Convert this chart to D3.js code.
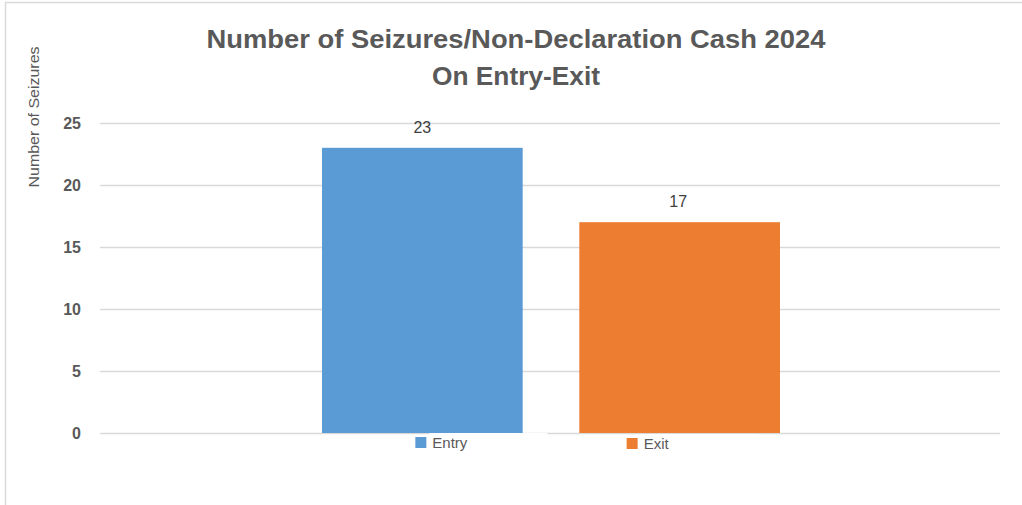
<!DOCTYPE html>
<html><head><meta charset="utf-8">
<script src="https://cdn.jsdelivr.net/npm/d3@7"></script>
<style>body{margin:0;background:#fff}svg{display:block}</style>
</head><body>
<script>
const series = ["Entry", "Exit"];
const values = [23, 17];
const colors = ["#5b9bd5", "#ed7d31"];
const yTicks = [0, 5, 10, 15, 20, 25];
const titleLines = ["Number of Seizures/Non-Declaration Cash 2024", "On Entry-Exit"];
const yTitle = "Number of Seizures";

const W = 1022, H = 505;
const svg = d3.select("body").append("svg").attr("width", W).attr("height", H);

// frame
svg.append("rect").attr("x", 5.5).attr("y", 2.5).attr("width", 1040).attr("height", 540)
  .attr("fill", "none").attr("stroke", "#d9d9d9").attr("stroke-width", 1.5);

const plotL = 100, plotR = 1000;
const y = d3.scaleLinear().domain([0, 25]).range([433, 123]);
const x = d3.scaleBand().domain(series).range([322, 780]).paddingInner(0.22).paddingOuter(0);

// gridlines
svg.append("g").selectAll("line").data(yTicks).join("line")
  .attr("x1", plotL).attr("x2", plotR)
  .attr("y1", d => Math.round(y(d)) + 0.5).attr("y2", d => Math.round(y(d)) + 0.5)
  .attr("stroke", "#d9d9d9").attr("stroke-width", 1.3);

// y axis labels
const yAxis = d3.axisLeft(y).tickValues(yTicks).tickSize(0).tickPadding(0);
const ga = svg.append("g").attr("transform", "translate(81,0)").call(yAxis);
ga.select(".domain").remove();
ga.selectAll("text").attr("font-family", "'Liberation Sans', sans-serif")
  .attr("font-weight", "bold").attr("font-size", 16).attr("fill", "#595959");

// bars
svg.append("g").selectAll("rect").data(series).join("rect")
  .attr("x", d => x(d)).attr("width", x.bandwidth())
  .attr("y", (d, i) => y(values[i])).attr("height", (d, i) => y(0) - y(values[i]))
  .attr("fill", (d, i) => colors[i]);

// data labels
svg.append("g").selectAll("text").data(series).join("text")
  .attr("x", (d, i) => x(d) + x.bandwidth() / 2 + (i === 0 ? 0 : -1.5))
  .attr("y", (d, i) => y(values[i]) - 15)
  .attr("text-anchor", "middle")
  .attr("font-family", "'Liberation Sans', sans-serif").attr("font-size", 16)
  .attr("fill", "#404040").text((d, i) => values[i]);

// legend (placed under each bar)
const legendOffsets = [-7, -53];
const legendDy = [0, 1];
const lg = svg.append("g").selectAll("g").data(series).join("g")
  .attr("transform", (d, i) => `translate(${x(d) + x.bandwidth() / 2 + legendOffsets[i]},${437 + legendDy[i]})`);
lg.append("rect").attr("x", 14).attr("y", -4).attr("width", 118).attr("height", 3).attr("fill", "#fff");
lg.append("rect").attr("x", 0).attr("y", 0).attr("width", 11).attr("height", 11)
  .attr("fill", (d, i) => colors[i]);
lg.append("text").attr("x", 17).attr("y", 11 + 0)
  .attr("font-family", "'Liberation Sans', sans-serif").attr("font-size", 15)
  .attr("fill", "#595959").text(d => d);

// title
const titleLen = [619, 168];
svg.append("g").selectAll("text").data(titleLines).join("text")
  .attr("x", 516).attr("y", (d, i) => 48 + i * 37)
  .attr("text-anchor", "middle")
  .attr("font-family", "'Liberation Sans', sans-serif")
  .attr("font-weight", "bold").attr("font-size", 25).attr("fill", "#595959")
  .attr("textLength", (d, i) => titleLen[i]).attr("lengthAdjust", "spacingAndGlyphs")
  .text(d => d);

// y title
svg.append("text").attr("transform", "translate(39,117) rotate(-90)")
  .attr("text-anchor", "middle")
  .attr("font-family", "'Liberation Sans', sans-serif").attr("font-size", 15)
  .attr("textLength", 141).attr("lengthAdjust", "spacingAndGlyphs")
  .attr("fill", "#595959").text(yTitle);
</script>
</body></html>
